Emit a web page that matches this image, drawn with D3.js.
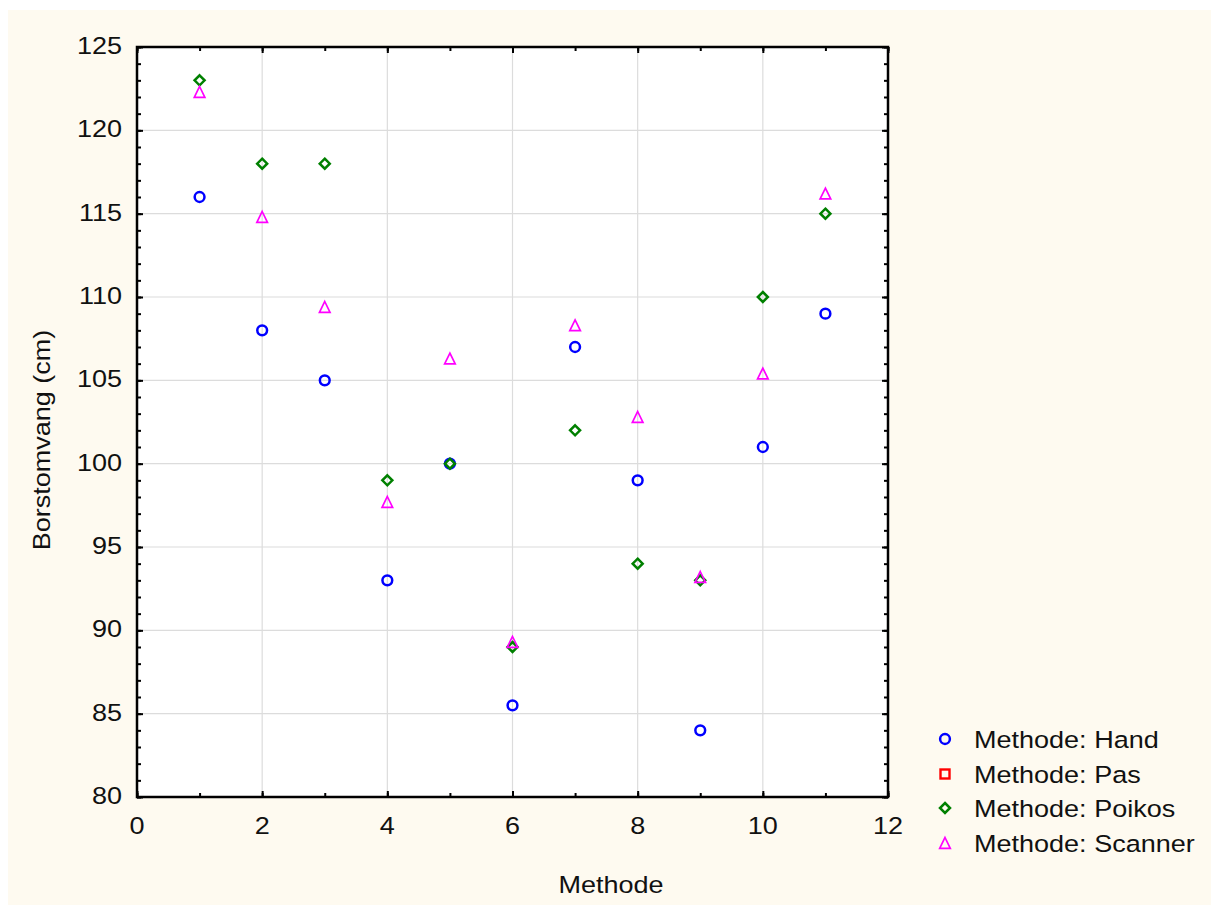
<!DOCTYPE html>
<html>
<head>
<meta charset="utf-8">
<script src="https://cdn.jsdelivr.net/npm/d3@7"></script>
<style>
  html, body { margin: 0; padding: 0; background: #ffffff; }
  svg { display: block; }
  text { font-family: "Liberation Sans", Arial, sans-serif; fill: #111; }
</style>
</head>
<body>
<svg id="chart" width="1211" height="906"></svg>
<script>
// ---- data ----
const methodeX = [1, 2, 3, 4, 5, 6, 7, 8, 9, 10, 11];
const hand    = [116, 108, 105, 93, 100, 85.5, 107, 99, 84, 101, 109];
const pas     = [];   // no visible points in the reference
const poikos  = [123, 118, 118, 99, 100, 89, 102, 94, 93, 110, 115];
const scanner = [122.3, 114.8, 109.4, 97.7, 106.3, 89.3, 108.3, 102.8, 93.2, 105.4, 116.2];
const seriesNames = ["Methode: Hand", "Methode: Pas", "Methode: Poikos", "Methode: Scanner"];
const xTicks = [0, 2, 4, 6, 8, 10, 12];
const yTicks = [80, 85, 90, 95, 100, 105, 110, 115, 120, 125];
const xLabel = "Methode";
const yLabel = "Borstomvang (cm)";

const series = [
  { name: seriesNames[0], values: hand,    shape: "circle",   color: "#0000ff" },
  { name: seriesNames[1], values: pas,     shape: "square",   color: "#ff0000" },
  { name: seriesNames[2], values: poikos,  shape: "diamond",  color: "#008000" },
  { name: seriesNames[3], values: scanner, shape: "triangle", color: "#ff00ff" }
];

const svg = d3.select("#chart");
const W = 1211, H = 906;
const L = 137, R = 888, T = 47, B = 797;
const FS = 23.5, SX = 1.15;

// background
svg.append("rect").attr("x", 0).attr("y", 0).attr("width", W).attr("height", H).attr("fill", "#ffffff");
svg.append("rect").attr("x", 8).attr("y", 10).attr("width", W - 8).attr("height", H - 11).attr("fill", "#fefaf0");
svg.append("rect").attr("x", L).attr("y", T).attr("width", R - L).attr("height", B - T).attr("fill", "#ffffff");

const x = d3.scaleLinear().domain([0, 12]).range([L, R]);
const y = d3.scaleLinear().domain([80, 125]).range([B, T]);

function stext(parent, tx, ty, str, anchor, extra) {
  return parent.append("text")
    .attr("transform", `translate(${tx},${ty})` + (extra || "") + ` scale(${SX},1)`)
    .attr("text-anchor", anchor).attr("font-size", FS).text(str);
}

// grid
const grid = svg.append("g");
grid.selectAll("line.gx").data(xTicks.slice(1, -1)).join("line")
  .attr("x1", d => x(d)).attr("x2", d => x(d)).attr("y1", T).attr("y2", B)
  .attr("stroke", "#dcdcdc").attr("stroke-width", 1.2);
grid.selectAll("line.gy").data(yTicks.slice(1, -1)).join("line")
  .attr("y1", d => y(d)).attr("y2", d => y(d)).attr("x1", L).attr("x2", R)
  .attr("stroke", "#dcdcdc").attr("stroke-width", 1.2);

// axes with inward ticks (major + minor), mirrored on top/right
const xMinor = d3.range(0, 12.01, 1);
const yMinor = d3.range(80, 125.01, 1);
function tickAxis(axisGen, transform) {
  const g = svg.append("g").attr("transform", transform).call(axisGen);
  g.select(".domain").remove();
  g.selectAll("line").attr("stroke", "#000").attr("stroke-width", 2);
  g.selectAll("text").remove();
  return g;
}
tickAxis(d3.axisBottom(x).tickValues(xMinor).tickSize(-4), `translate(0,${B})`);
tickAxis(d3.axisTop(x).tickValues(xMinor).tickSize(-4), `translate(0,${T})`);
tickAxis(d3.axisLeft(y).tickValues(yMinor).tickSize(-4), `translate(${L},0)`);
tickAxis(d3.axisRight(y).tickValues(yMinor).tickSize(-4), `translate(${R},0)`);
tickAxis(d3.axisBottom(x).tickValues(xTicks).tickSize(-6), `translate(0,${B})`);
tickAxis(d3.axisTop(x).tickValues(xTicks).tickSize(-6), `translate(0,${T})`);
tickAxis(d3.axisLeft(y).tickValues(yTicks).tickSize(-6), `translate(${L},0)`);
tickAxis(d3.axisRight(y).tickValues(yTicks).tickSize(-6), `translate(${R},0)`);

// tick labels
const labels = svg.append("g");
xTicks.forEach(t => stext(labels, x(t), 834, String(t), "middle"));
yTicks.forEach(t => stext(labels, 122, y(t) + 7, String(t), "end"));

// frame
svg.append("rect").attr("x", L).attr("y", T).attr("width", R - L).attr("height", B - T)
  .attr("fill", "none").attr("stroke", "#000").attr("stroke-width", 2.5);

// axis titles
stext(svg, 611, 893, xLabel, "middle");
stext(svg, 50, 440, yLabel, "middle", " rotate(-90)");

// markers
function marker(sel, shape, color) {
  if (shape === "circle") {
    sel.append("circle").attr("r", 4.9).attr("fill", "none").attr("stroke", color).attr("stroke-width", 2.5);
  } else if (shape === "square") {
    sel.append("rect").attr("x", -4.5).attr("y", -4.5).attr("width", 9).attr("height", 9)
      .attr("fill", "none").attr("stroke", color).attr("stroke-width", 2.4);
  } else if (shape === "diamond") {
    sel.append("path").attr("d", "M0,-5 L5,0 L0,5 L-5,0 Z").attr("fill", "none").attr("stroke", color).attr("stroke-width", 2.5);
  } else if (shape === "triangle") {
    sel.append("path").attr("d", "M0,-5.5 L5.3,5.3 L-5.3,5.3 Z").attr("fill", "none").attr("stroke", color).attr("stroke-width", 1.7);
  }
}
series.forEach(s => {
  const g = svg.append("g");
  s.values.forEach((v, i) => {
    const m = g.append("g").attr("transform", `translate(${x(methodeX[i])},${y(v)})`);
    marker(m, s.shape, s.color);
  });
});

// legend
const legendY = [739, 774, 808, 843];
series.forEach((s, i) => {
  const m = svg.append("g").attr("transform", `translate(945,${legendY[i]})`);
  marker(m, s.shape, s.color);
  stext(svg, 974, legendY[i] + 9, s.name, "start");
});
</script>
</body>
</html>
